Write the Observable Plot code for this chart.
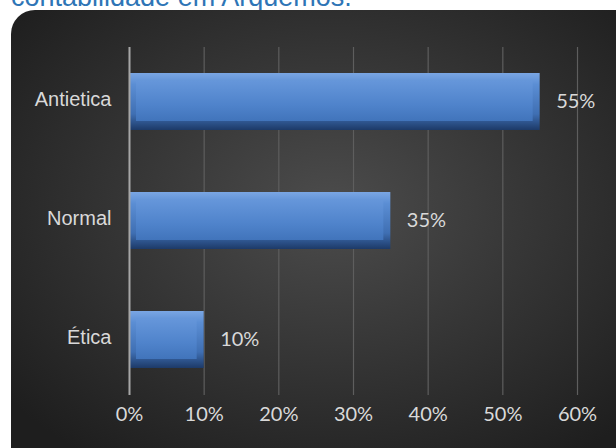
<!DOCTYPE html>
<html><head><meta charset="utf-8">
<script src="https://cdn.jsdelivr.net/npm/d3@7"></script>
<script src="https://cdn.jsdelivr.net/npm/@observablehq/plot@0.6"></script>
<style>
html,body{margin:0;padding:0;background:#fff;width:616px;height:448px;overflow:hidden;}
#wrap{position:relative;width:616px;height:448px;}
#title{position:absolute;left:11px;top:-19px;font-family:"Liberation Sans",Arial,sans-serif;font-size:27px;line-height:32px;color:#2e75b6;white-space:nowrap;}
#chart{position:absolute;left:0;top:0;}
</style></head>
<body>
<div id="wrap"><div id="title">contabilidade em Arquemos.</div><div id="chart"></div></div>
<script>
const categories = ["Antietica", "Normal", "Ética"];
const values = [55, 35, 10];
const xTicks = [0, 10, 20, 30, 40, 50, 60];

const data = categories.map((c, i) => ({cat: c, val: values[i]}));

const plot = Plot.plot({
  width: 616, height: 448,
  marginLeft: 129, marginRight: 39, marginTop: 47, marginBottom: 53,
  style: {background: "transparent", color: "#d9d9d9", fontSize: "20px"},
  x: {domain: [0, 60], label: null},
  y: {domain: categories, paddingInner: 0.52, paddingOuter: 0.22, label: null},
  marks: [
    Plot.gridX(xTicks, {stroke: "#5e5e5e", strokeOpacity: 1, strokeWidth: 1.2}),
    Plot.barX(data, {x: "val", y: "cat", fill: "url(#barOuter)"}),
    Plot.barX(data, {x: "val", y: "cat", fill: "url(#barInner)", insetTop: 8, insetBottom: 9, insetLeft: 7, insetRight: 7}),
    Plot.ruleX([0], {stroke: "#a6a6a6", strokeWidth: 2}),
    Plot.text(data, {x: "val", y: "cat", text: d => d.val + "%", textAnchor: "start", dx: 16, fill: "#d9d9d9", fontSize: 20, fontFamily: "Lato, 'Open Sans', sans-serif"}),
    Plot.axisX({ticks: xTicks, tickFormat: d => d + "%", tickSize: 0, tickPadding: 11, fontSize: 20, fontFamily: "Lato, 'Open Sans', sans-serif", fill: "#d9d9d9", label: null}),
    Plot.axisY({tickSize: 0, tickPadding: 18, fontSize: 20, fontFamily: "'Liberation Sans', Arial, sans-serif", fill: "#d9d9d9", label: null, dy: -2})
  ]
});

const svg = d3.select(plot);
const defs = svg.insert("defs", ":first-child");
const bg = defs.append("radialGradient").attr("id", "bgGrad").attr("cx", "50%").attr("cy", "42%").attr("r", "65%");
bg.append("stop").attr("offset", "0%").attr("stop-color", "#4c4c4c");
bg.append("stop").attr("offset", "100%").attr("stop-color", "#1e1e1e");
const go = defs.append("linearGradient").attr("id", "barOuter").attr("x1", 0).attr("y1", 0).attr("x2", 0).attr("y2", 1);
go.append("stop").attr("offset", "0%").attr("stop-color", "#7aa6e3");
go.append("stop").attr("offset", "20%").attr("stop-color", "#5b8ed4");
go.append("stop").attr("offset", "72%").attr("stop-color", "#3f6fb3");
go.append("stop").attr("offset", "100%").attr("stop-color", "#1d3a68");
const gi = defs.append("linearGradient").attr("id", "barInner").attr("x1", 0).attr("y1", 0).attr("x2", 0).attr("y2", 1);
gi.append("stop").attr("offset", "0%").attr("stop-color", "#6596da");
gi.append("stop").attr("offset", "60%").attr("stop-color", "#4f83cb");
gi.append("stop").attr("offset", "100%").attr("stop-color", "#4174bb");
svg.insert("rect", "defs + *").attr("x", 11).attr("y", 10).attr("width", 640).attr("height", 470)
  .attr("rx", 24).attr("fill", "url(#bgGrad)");
document.getElementById("chart").appendChild(plot);
</script>
</body></html>
